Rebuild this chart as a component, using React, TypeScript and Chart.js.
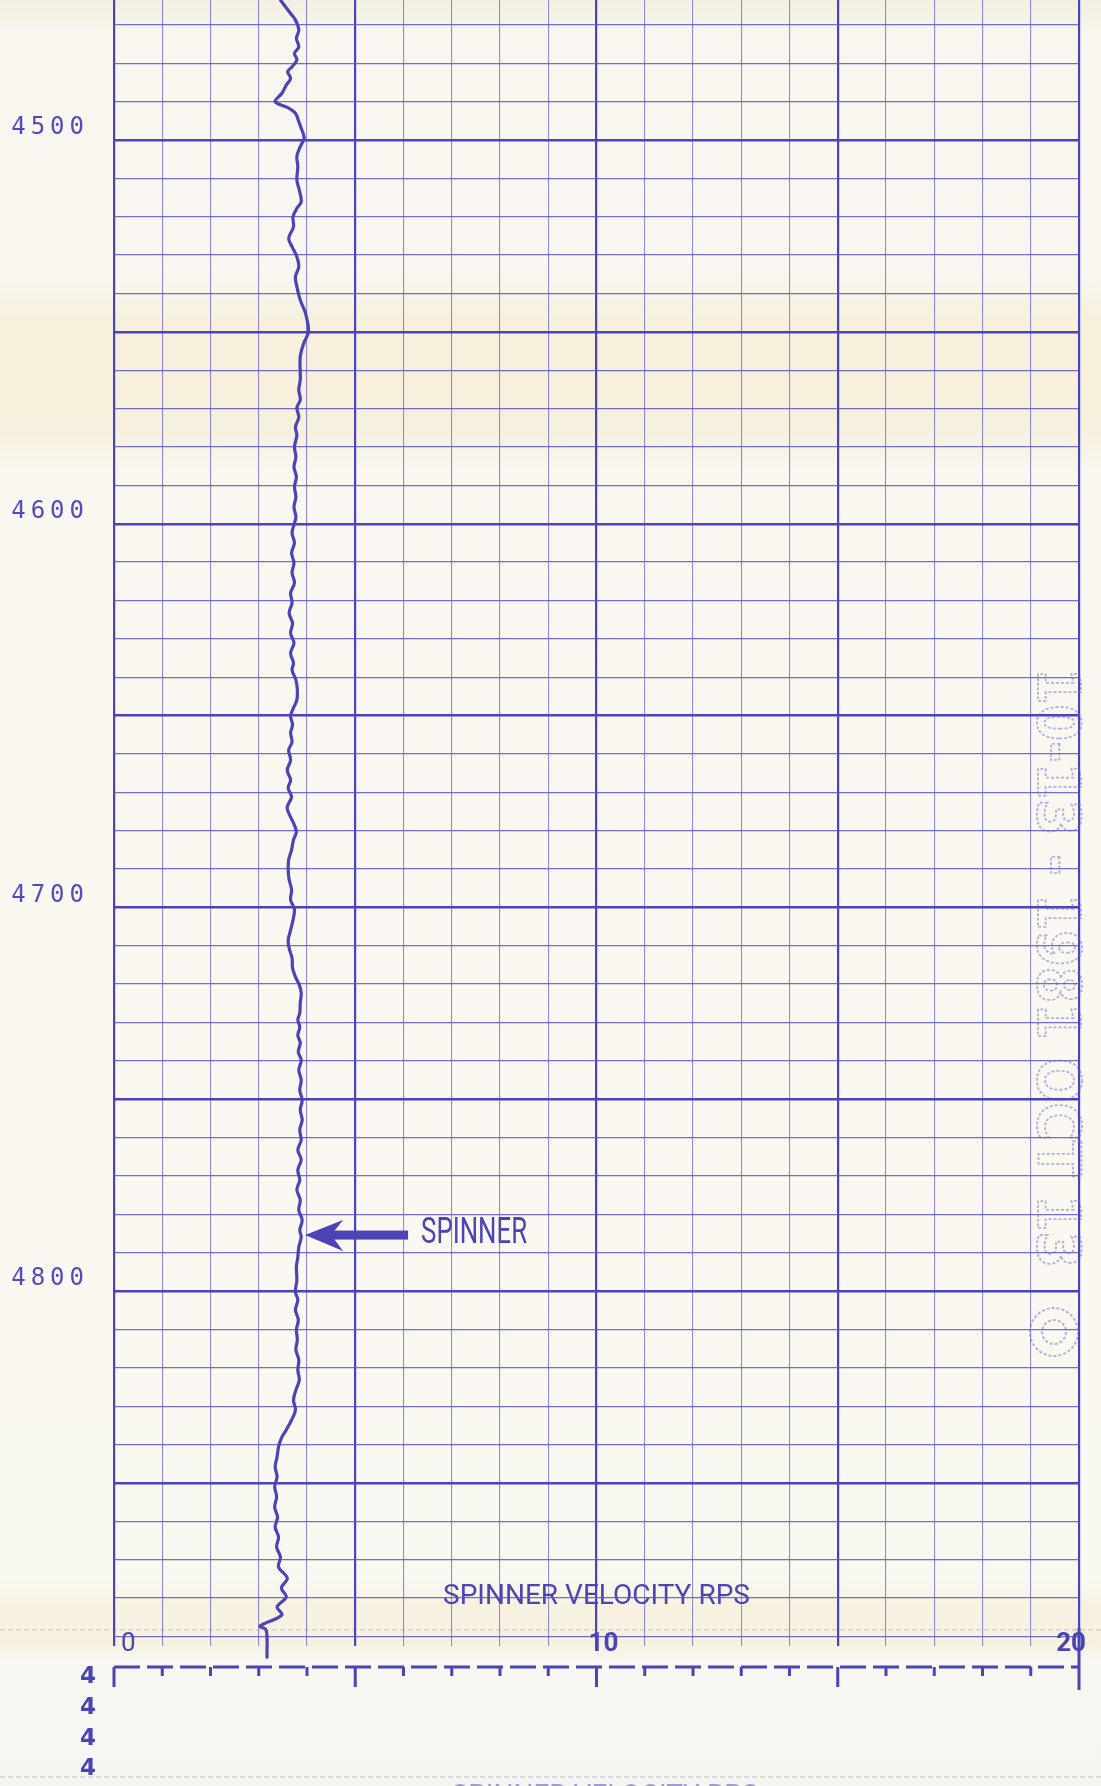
import React, { useEffect, useRef } from 'react';
import { Chart, registerables } from 'chart.js';

Chart.register(...registerables);

const depthFt = [
  4463.5, 4465.2, 4467.0, 4468.7, 4471.3, 4473.5, 4475.7, 4477.4, 4479.1, 4480.9,
  4482.2, 4483.9, 4485.7, 4487.8, 4490.0, 4491.5, 4493.0, 4495.2, 4496.9, 4499.5,
  4501.7, 4504.3, 4506.9, 4510.4, 4513.0, 4516.1, 4517.8, 4520.0, 4522.6, 4525.6,
  4527.8, 4530.4, 4533.0, 4535.6, 4538.2, 4541.7, 4545.2, 4550.0, 4553.0, 4556.5,
  4560.8, 4562.5, 4565.1, 4567.7, 4569.8, 4572.2, 4574.8, 4576.9, 4580.0, 4582.6,
  4585.2, 4587.8, 4590.4, 4593.0, 4595.6, 4598.2, 4599.8, 4602.4, 4605.0, 4607.6,
  4610.2, 4612.8, 4615.4, 4618.0, 4620.6, 4623.3, 4625.9, 4628.5, 4631.1, 4633.7,
  4636.3, 4638.1, 4640.7, 4643.3, 4645.9, 4648.0, 4650.1, 4652.4, 4654.5, 4656.9,
  4659.0, 4661.6, 4664.2, 4666.8, 4668.9, 4671.2, 4673.8, 4675.4, 4678.0, 4680.3,
  4682.4, 4685.0, 4687.6, 4690.2, 4692.8, 4695.4, 4698.1, 4700.4, 4703.3, 4705.9,
  4708.5, 4710.6, 4713.2, 4715.8, 4718.1, 4720.2, 4722.3, 4724.9, 4727.5, 4729.3,
  4731.2, 4733.3, 4735.3, 4737.7, 4739.8, 4742.4, 4745.0, 4747.6, 4750.2, 4752.8,
  4755.4, 4758.0, 4760.6, 4763.2, 4765.8, 4768.4, 4771.0, 4773.6, 4776.2, 4778.9,
  4781.5, 4784.1, 4785.9, 4788.5, 4791.1, 4793.7, 4797.1, 4800.2, 4802.3, 4804.9,
  4807.5, 4810.1, 4812.7, 4815.3, 4817.9, 4820.6, 4823.2, 4825.8, 4828.4, 4831.0,
  4833.6, 4836.2, 4838.3, 4840.6, 4843.2, 4845.8, 4848.4, 4851.0, 4853.6, 4856.3,
  4858.9, 4861.5, 4864.1, 4866.7, 4869.3, 4871.9, 4874.8, 4877.4, 4879.7, 4882.3,
  4884.4, 4887.3, 4888.1, 4889.6, 4895.4,
];

const spinnerRps = [
  3.45, 3.55, 3.66, 3.76, 3.83, 3.78, 3.83, 3.74, 3.79, 3.69,
  3.60, 3.66, 3.57, 3.48, 3.34, 3.59, 3.76, 3.83, 3.88, 3.94,
  3.86, 3.79, 3.81, 3.79, 3.84, 3.88, 3.79, 3.71, 3.72, 3.62,
  3.69, 3.79, 3.83, 3.76, 3.79, 3.86, 3.97, 4.03, 3.93, 3.86,
  3.86, 3.86, 3.83, 3.86, 3.79, 3.83, 3.76, 3.79, 3.74, 3.77,
  3.73, 3.78, 3.74, 3.77, 3.73, 3.77, 3.74, 3.69, 3.74, 3.68,
  3.73, 3.69, 3.74, 3.66, 3.69, 3.63, 3.70, 3.66, 3.73, 3.66,
  3.72, 3.69, 3.77, 3.80, 3.79, 3.72, 3.66, 3.70, 3.66, 3.69,
  3.62, 3.66, 3.59, 3.66, 3.61, 3.68, 3.59, 3.62, 3.72, 3.78,
  3.72, 3.68, 3.62, 3.61, 3.63, 3.68, 3.66, 3.74, 3.71, 3.66,
  3.61, 3.63, 3.69, 3.70, 3.76, 3.84, 3.88, 3.86, 3.85, 3.81,
  3.85, 3.81, 3.86, 3.82, 3.88, 3.83, 3.88, 3.85, 3.90, 3.86,
  3.90, 3.85, 3.88, 3.81, 3.88, 3.81, 3.85, 3.79, 3.86, 3.83,
  3.90, 3.85, 3.88, 3.83, 3.81, 3.78, 3.79, 3.76, 3.81, 3.76,
  3.82, 3.78, 3.80, 3.77, 3.83, 3.81, 3.84, 3.77, 3.72, 3.76,
  3.68, 3.57, 3.47, 3.41, 3.38, 3.34, 3.38, 3.33, 3.37, 3.33,
  3.39, 3.34, 3.41, 3.37, 3.45, 3.41, 3.59, 3.47, 3.57, 3.38,
  3.48, 3.03, 3.14, 3.17, 3.17,
];

const depthGridTicks = [
  4470, 4480, 4490, 4500, 4510, 4520, 4530, 4540, 4550, 4560, 4570, 4580, 4590,
  4600, 4610, 4620, 4630, 4640, 4650, 4660, 4670, 4680, 4690, 4700, 4710, 4720,
  4730, 4740, 4750, 4760, 4770, 4780, 4790, 4800, 4810, 4820, 4830, 4840, 4850,
  4860, 4870, 4880, 4890,
];
const depthLabels = [4500, 4600, 4700, 4800];
const rpsGridTicks = [0, 1, 2, 3, 4, 5, 6, 7, 8, 9, 10, 11, 12, 13, 14, 15, 16, 17, 18, 19, 20];
const rpsLabels = [0, 10, 20];
const rpsBoldLabels = [10, 20];
const rpsMajorTicks = [0, 5, 10, 15, 20];
const axisTitle = 'SPINNER VELOCITY RPS';
const spinnerTag = 'SPINNER';
const spinnerTagDepth = 4785.4;
const spinnerTagRps = 3.96;
const nextTrackLabels = ['4', '4', '4', '4'];
const stampText = '10-13 - 1981 OCT 13';

// ---------- style ----------
const W = 1101;
const H = 1786;
const INK = '#4b43b6';
const GRID_BOLD = '#4a42bf';
const GRID_THIN_H = 'rgba(92, 86, 196, 0.85)';
const GRID_THIN_V = 'rgba(105, 99, 205, 0.72)';

const paperPlugin = {
  id: 'paper',
  beforeDraw(chart: any) {
    const { ctx, width, height } = chart;
    const g = ctx.createLinearGradient(0, 0, 0, height);
    g.addColorStop(0, '#f3efe2');
    g.addColorStop(0.02, '#f8f6ee');
    g.addColorStop(0.155, '#f8f6ee');
    g.addColorStop(0.18, '#f6f0dd');
    g.addColorStop(0.24, '#f6f0de');
    g.addColorStop(0.265, '#f9f7f0');
    g.addColorStop(0.885, '#f9f8f1');
    g.addColorStop(0.9, '#f6f1e0');
    g.addColorStop(0.92, '#f6f1e0');
    g.addColorStop(0.93, '#f8f7f2');
    g.addColorStop(1, '#f5f5f1');
    ctx.save();
    ctx.fillStyle = g;
    ctx.fillRect(0, 0, width, height);
    ctx.restore();
  },
};

const depthLabelSpacing = {
  id: 'depthLabelSpacing',
  afterDatasetsDraw(chart: any) {
    (chart.ctx as any).letterSpacing = '5px';
  },
};

const annotationsPlugin = {
  id: 'logAnnotations',
  afterDraw(chart: any) {
    const ctx = chart.ctx as any;
    ctx.letterSpacing = '0px';
    const xs = chart.scales.x;
    const ys = chart.scales.y;

    ctx.save();

    // faint scan artefact lines
    ctx.strokeStyle = 'rgba(120, 115, 175, 0.28)';
    ctx.lineWidth = 1.5;
    ctx.setLineDash([5, 3]);
    ctx.beginPath();
    ctx.moveTo(0, 1630);
    ctx.lineTo(W, 1630);
    ctx.moveTo(0, 1777);
    ctx.lineTo(W, 1777);
    ctx.stroke();
    ctx.setLineDash([]);

    // dashed tick scale under the track
    const sy = 1667;
    const x0 = xs.getPixelForValue(0);
    const x20 = xs.getPixelForValue(20);
    ctx.strokeStyle = INK;
    ctx.lineWidth = 3;
    ctx.setLineDash([26, 7]);
    ctx.beginPath();
    ctx.moveTo(x0, sy);
    ctx.lineTo(x20, sy);
    ctx.stroke();
    ctx.setLineDash([]);
    rpsGridTicks.forEach((v) => {
      const px = xs.getPixelForValue(v);
      ctx.beginPath();
      if (v === 20) {
        ctx.moveTo(px, 1628);
        ctx.lineTo(px, 1690);
      } else {
        ctx.moveTo(px, sy);
        ctx.lineTo(px, sy + (rpsMajorTicks.includes(v) ? 20 : 9));
      }
      ctx.stroke();
    });

    // next-track depth label stubs
    ctx.fillStyle = INK;
    ctx.font = 'bold 23px "DejaVu Sans"';
    ctx.textAlign = 'center';
    ctx.textBaseline = 'middle';
    const stubY = [1677, 1708, 1739, 1769];
    nextTrackLabels.forEach((t, i) => ctx.fillText(t, 88, stubY[i]));

    // cut-off repeat of the scale title at the bottom edge
    ctx.fillStyle = 'rgba(75, 67, 182, 0.5)';
    ctx.font = '28px Roboto';
    ctx.textBaseline = 'top';
    ctx.fillText(axisTitle, 605, 1783);

    // SPINNER arrow annotation
    const tx = xs.getPixelForValue(spinnerTagRps);
    const ty = ys.getPixelForValue(spinnerTagDepth);
    ctx.fillStyle = INK;
    ctx.beginPath();
    ctx.moveTo(tx, ty);
    ctx.lineTo(tx + 38, ty - 15);
    ctx.lineTo(tx + 26, ty);
    ctx.lineTo(tx + 38, ty + 16);
    ctx.closePath();
    ctx.fill();
    ctx.fillRect(tx + 24, ty - 4.5, 79, 9);
    ctx.font = '36px Roboto';
    const tw = ctx.measureText(spinnerTag).width;
    ctx.save();
    ctx.translate(tx + 116, ty - 1);
    ctx.scale(106 / tw, 1);
    ctx.textAlign = 'left';
    ctx.textBaseline = 'middle';
    ctx.fillText(spinnerTag, 0, 0);
    ctx.restore();

    // faint dotted receipt stamp on the right edge
    ctx.save();
    ctx.translate(1055, 668);
    ctx.rotate(Math.PI / 2);
    ctx.font = 'bold 58px "DejaVu Sans"';
    const sw = ctx.measureText(stampText).width;
    ctx.scale(600 / sw, 1);
    ctx.textAlign = 'left';
    ctx.textBaseline = 'middle';
    ctx.setLineDash([3, 2]);
    ctx.lineWidth = 2;
    ctx.strokeStyle = 'rgba(100, 92, 205, 0.45)';
    ctx.strokeText(stampText, 0, 2);
    ctx.restore();
    ctx.setLineDash([3, 2]);
    ctx.lineWidth = 2;
    ctx.strokeStyle = 'rgba(100, 92, 205, 0.45)';
    ctx.beginPath();
    ctx.arc(1054, 1332, 24, 0, Math.PI * 2);
    ctx.stroke();
    ctx.beginPath();
    ctx.arc(1054, 1332, 12, 0, Math.PI * 2);
    ctx.stroke();
    ctx.setLineDash([]);

    ctx.restore();
  },
};

export default function App() {
  const canvasRef = useRef<HTMLCanvasElement | null>(null);

  useEffect(() => {
    const canvas = canvasRef.current;
    if (!canvas) return;
    const points = depthFt.map((d, i) => ({ x: spinnerRps[i], y: d }));

    const chart = new Chart(canvas, {
      type: 'scatter',
      data: {
        datasets: [
          {
            data: points,
            showLine: true,
            borderColor: INK,
            borderWidth: 3.2,
            pointRadius: 0,
            tension: 0.35,
            fill: false,
            clip: false,
            borderJoinStyle: 'round',
            borderCapStyle: 'round',
          } as any,
        ],
      },
      options: {
        responsive: false,
        animation: false,
        devicePixelRatio: 1,
        events: [],
        layout: { padding: { left: 0, right: 22, top: 0, bottom: 0 } },
        plugins: {
          legend: { display: false },
          tooltip: { enabled: false },
          title: { display: false },
        },
        scales: {
          x: {
            type: 'linear',
            position: 'bottom',
            min: 0,
            max: 20,
            afterBuildTicks: (s: any) => {
              s.ticks = rpsGridTicks.map((v) => ({ value: v }));
            },
            afterFit: (s: any) => {
              s.height = 140;
              s.paddingLeft = 0;
              s.paddingRight = 0;
            },
            grid: {
              drawTicks: false,
              color: (c: any) => (c.tick && rpsMajorTicks.includes(c.tick.value) ? GRID_BOLD : GRID_THIN_V),
              lineWidth: (c: any) => (c.tick && rpsMajorTicks.includes(c.tick.value) ? 2.2 : 1.1),
            },
            border: { display: false },
            ticks: {
              autoSkip: false,
              maxRotation: 0,
              minRotation: 0,
              align: 'inner',
              mirror: true,
              padding: -14,
              labelOffset: 7,
              color: INK,
              font: (c: any) => ({
                family: 'Roboto',
                size: 26,
                weight: c.tick && rpsBoldLabels.includes(c.tick.value) ? 'bold' : 'normal',
              }),
              callback: (v: any) => (rpsLabels.includes(Number(v)) ? String(v) : ''),
            },
            title: {
              display: true,
              text: axisTitle,
              color: INK,
              font: { family: 'Roboto', size: 28, weight: 'normal' },
              padding: { top: 0, bottom: 172 },
            },
          },
          y: {
            type: 'linear',
            position: 'left',
            reverse: true,
            min: 4463.5,
            max: 4892.5,
            afterBuildTicks: (s: any) => {
              s.ticks = depthGridTicks.map((v) => ({ value: v }));
            },
            afterFit: (s: any) => {
              s.width = 114;
              s.paddingTop = 0;
              s.paddingBottom = 0;
            },
            grid: {
              drawTicks: false,
              color: (c: any) => (c.tick && c.tick.value % 50 === 0 ? GRID_BOLD : GRID_THIN_H),
              lineWidth: (c: any) => (c.tick && c.tick.value % 50 === 0 ? 2.4 : 1.3),
            },
            border: { display: false },
            ticks: {
              autoSkip: false,
              padding: 25,
              labelOffset: -12,
              z: 1,
              color: '#514bbf',
              font: { family: 'DejaVu Sans Mono', size: 24, weight: 'normal' },
              callback: (v: any) => (depthLabels.includes(Number(v)) ? String(v) : ''),
            },
          },
        },
      } as any,
      plugins: [paperPlugin, depthLabelSpacing, annotationsPlugin],
    });

    return () => {
      chart.destroy();
    };
  }, []);

  return (
    <div style={{ position: 'absolute', left: 0, top: 0, width: W, height: H, overflow: 'hidden' }}>
      <canvas ref={canvasRef} width={W} height={H} style={{ display: 'block', width: W, height: H }} />
    </div>
  );
}
